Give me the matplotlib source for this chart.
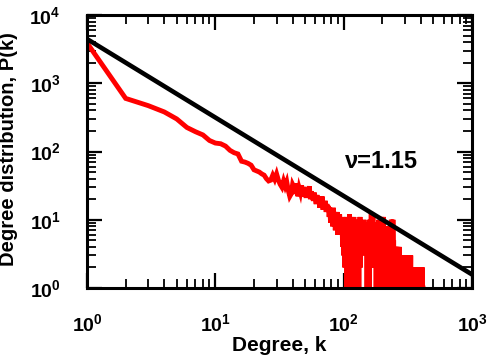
import numpy as np
import matplotlib
matplotlib.use("Agg")
import matplotlib.pyplot as plt

plt.rcParams['font.family'] = ['Liberation Sans', 'DejaVu Sans']
plt.rcParams['font.weight'] = 'bold'

# degree distribution P(k), k = 1, 2, 3, ...
counts = [
    3900, 600, 470, 380, 300, 225, 195, 175, 145, 133,
    130, 120, 104, 96, 92, 72, 70, 67, 63, 54,
    52, 50, 47, 45, 40, 37, 38, 45, 39, 47,
    38, 33, 30, 37, 31, 36, 27, 22, 24, 33,
    30, 24, 34, 22, 29, 25, 32, 22, 30, 26,
    21, 28, 24, 31, 20, 26, 22, 19, 25, 21,
    17, 23, 18, 21, 15, 20, 17, 22, 14, 18,
    15, 19, 13, 17, 14, 16, 11, 15, 9, 14,
    12, 8, 15, 10, 13, 7, 12, 9, 13, 6,
    11, 8, 12, 7, 10, 6, 11, 4, 9, 3,
    10, 2, 8, 5, 11, 1, 7, 9, 0, 6,
    12, 3, 8, 0, 9, 5, 10, 2, 7, 11,
    0, 6, 9, 4, 8, 1, 10, 7, 3, 9,
    0, 8, 5, 11, 2, 7, 9, 4, 6, 9,
    4, 8, 3, 10, 5, 7, 9, 4, 8, 6,
    3, 0, 7, 9, 1, 5, 8, 0, 10, 4,
    6, 2, 8, 13, 5, 9, 3, 7, 11, 4,
    8, 3, 9, 5, 7, 2, 8, 4, 0, 6,
    9, 1, 5, 8, 0, 7, 3, 10, 1, 6,
    0, 8, 4, 7, 0, 5, 11, 2, 6, 0,
    3, 7, 4, 11, 3, 6, 0, 5, 8, 1,
    4, 7, 0, 6, 3, 8, 0, 5, 2, 6,
    1, 4, 7, 0, 3, 5, 1, 6, 0, 4,
    2, 5, 0, 3, 10, 2, 0, 9, 1, 4,
    0, 10, 3, 1, 5, 2, 0, 4, 1, 3,
    0, 2, 4, 0, 1, 3, 0, 2, 4, 1,
    0, 3, 2, 0, 4, 1, 0, 2, 3, 0,
    1, 4, 0, 2, 1, 0, 3, 1, 0, 2,
    1, 3, 0, 2, 1, 0, 3, 1, 0, 2,
    0, 1, 3, 0, 2, 1, 0, 2, 3, 0,
    1, 0, 2, 1, 3, 0, 1, 2, 0, 1,
    3, 0, 2, 0, 1, 2, 0, 3, 1, 0,
    2, 1, 0, 1, 3, 0, 2, 0, 1, 2,
    0, 1, 3, 0, 1, 0, 2, 1, 0, 1,
    0, 2, 0, 1, 0, 0, 1, 2, 0, 1,
    0, 1, 0, 2, 0, 1, 0, 0, 1, 0,
    2, 0, 1, 0, 1, 0, 0, 2, 0, 1,
    0, 1, 0, 0, 1, 0, 2, 0, 0, 1,
    0, 1, 0, 0, 2, 0, 1, 0, 0, 1,
    0, 0, 1, 0, 2, 0, 0, 1, 0, 0,
    1, 0, 0, 2, 0, 0, 1, 0, 0, 2,
    0, 1, 0, 0, 1,
]
degree = np.arange(1, len(counts) + 1)

# power-law guide line
fit_amp = 4450
fit_exp = 1.15
fit_k = np.array([1, 1000])

fig = plt.figure(figsize=(4.9, 3.61), dpi=100)
ax = fig.add_axes([0.1776, 0.2022, 0.7857, 0.7562])

ax.plot(degree, counts, color='#ff0000', lw=3.5, solid_joinstyle='miter')
ax.plot(fit_k, fit_amp * fit_k ** (-fit_exp), color='black', lw=3.3)

ax.set_xscale('log')
ax.set_yscale('log')
ax.set_xlim(1, 1000)
ax.set_ylim(1, 1e4)

for s in ax.spines.values():
    s.set_linewidth(2.2)
ax.tick_params(which='both', direction='in', top=True, right=True)
ax.tick_params(which='major', length=11, width=1.6, labelsize=14)
ax.tick_params(axis='x', which='major', pad=18)
ax.tick_params(axis='y', which='major', pad=19)
ax.tick_params(which='minor', length=6.5, width=1.3)

ax.set_xlabel('Degree, k', fontsize=15, fontweight='bold')
ax.set_ylabel('Degree distribution, P(k)', fontsize=14.5, fontweight='bold')
ax.xaxis.set_label_coords(0.5, -0.175)
ax.yaxis.set_label_coords(-0.18, 0.51)

ax.text(0.764, 0.465, 'ν=1.15', transform=ax.transAxes, ha='center',
        va='center', fontsize=17, fontweight='bold')

fig.savefig('out.png', dpi=100)
